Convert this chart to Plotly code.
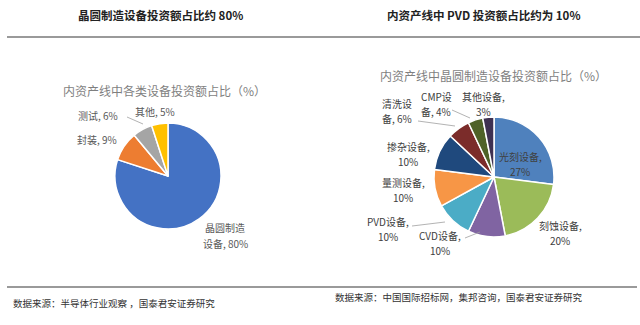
import plotly.graph_objects as go

W, H = 640, 325

# Left pie data
left_labels = ["晶圆制造设备", "封装", "测试", "其他"]
left_values = [80, 9, 6, 5]
left_colors = ["#4472C4", "#ED7D31", "#A5A5A5", "#FFC000"]

# Right pie data
right_labels = ["光刻设备", "刻蚀设备", "CVD设备", "PVD设备", "量测设备",
                "掺杂设备", "清洗设备", "CMP设备", "其他设备"]
right_values = [27, 20, 10, 10, 10, 10, 6, 4, 3]
right_colors = ["#4F81BD", "#9BBB59", "#8064A2", "#4BACC6", "#F79646",
                "#1F497D", "#7B2C2A", "#4F6228", "#3F3151"]

# label texts (display lines)
left_label_text = [["晶圆制造", "设备, 80%"], ["封装, 9%"], ["测试, 6%"], ["其他, 5%"]]
right_label_text = [["光刻设备,", "27%"], ["刻蚀设备,", "20%"], ["CVD设备,", "10%"],
                    ["PVD设备,", "10%"], ["量测设备,", "10%"], ["掺杂设备,", "10%"],
                    ["清洗设", "备, 6%"], ["CMP设", "备, 4%"], ["其他设备,", "3%"]]

FONT = "Noto Sans CJK SC"
GRAY = "#595959"

def px(x):
    return x / W

def py(y):
    return 1 - y / H

fig = go.Figure()

fig.add_trace(go.Pie(
    labels=left_labels, values=left_values, sort=False, direction="clockwise",
    rotation=0, marker=dict(colors=left_colors, line=dict(color="white", width=1.5)),
    textinfo="none", hoverinfo="label+value",
    domain=dict(x=[px(115), px(221)], y=[py(229), py(123)]),
    showlegend=False,
))

fig.add_trace(go.Pie(
    labels=right_labels, values=right_values, sort=False, direction="clockwise",
    rotation=0, marker=dict(colors=right_colors, line=dict(color="white", width=1.5)),
    textinfo="none", hoverinfo="label+value",
    domain=dict(x=[px(434), px(554)], y=[py(237), py(117)]),
    showlegend=False,
))

annotations = []

def ann(text, x, y, size=10.5, color=GRAY, xanchor="center", bold=False):
    annotations.append(dict(
        text=f"<b>{text}</b>" if bold else text, x=px(x), y=py(y), xref="paper", yref="paper",
        showarrow=False, font=dict(family=FONT, size=size, color=color),
        xanchor=xanchor, yanchor="middle", borderpad=0,
    ))

def multi(lines, x, y, step, size=10, color=GRAY):
    y0 = y - step * (len(lines) - 1) / 2
    for i, ln in enumerate(lines):
        ann(ln, x, y0 + i * step, size=size, color=color)

# Panel titles
ann("晶圆制造设备投资额占比约 80%", 160, 15, size=11.5, color="#222222", bold=True)
ann("内资产线中 PVD 投资额占比约为 10%", 483, 15, size=11.5, color="#222222", bold=True)

# Chart subtitles
ann("内资产线中各类设备投资额占比（%）", 164, 90, size=12, color="#7F7F7F")
ann("内资产线中晶圆制造设备投资额占比（%）", 493, 75, size=12, color="#7F7F7F")

# Left labels
left_pos = [(225, 235), (97, 139), (98, 115), (155, 112)]
for lines, (x, y) in zip(left_label_text, left_pos):
    multi(lines, x, y, 16)

# Right labels
right_pos = [(520, 164), (560, 233), (440, 243), (388, 229), (403, 190),
             (408, 154), (397, 111), (436, 104), (483, 104)]
for lines, (x, y) in zip(right_label_text, right_pos):
    multi(lines, x, y, 15, color="#404040")

# Sources
ann("数据来源：半导体行业观察 ，国泰君安证券研究", 12, 303, size=9.5, color="#333333", xanchor="left")
ann("数据来源：中国国际招标网，集邦咨询，国泰君安证券研究", 334, 297, size=9.5, color="#333333", xanchor="left")

shapes = [
    dict(type="line", xref="paper", yref="paper", x0=px(7), x1=px(640), y0=py(37), y1=py(37),
         line=dict(color="#9A9A9A", width=2)),
    dict(type="line", xref="paper", yref="paper", x0=px(7), x1=px(637), y0=py(287), y1=py(287),
         line=dict(color="#9A9A9A", width=2)),
    # leader lines
    dict(type="line", xref="paper", yref="paper", x0=px(127), x1=px(143), y0=py(117), y1=py(124),
         line=dict(color="#A0A0A0", width=0.8)),
    dict(type="line", xref="paper", yref="paper", x0=px(418), x1=px(455), y0=py(121), y1=py(126),
         line=dict(color="#A0A0A0", width=0.8)),
    dict(type="line", xref="paper", yref="paper", x0=px(452), x1=px(470), y0=py(110), y1=py(118),
         line=dict(color="#A0A0A0", width=0.8)),
    dict(type="line", xref="paper", yref="paper", x0=px(412), x1=px(445), y0=py(226), y1=py(222),
         line=dict(color="#A0A0A0", width=0.8)),
    dict(type="line", xref="paper", yref="paper", x0=px(465), x1=px(480), y0=py(238), y1=py(232),
         line=dict(color="#A0A0A0", width=0.8)),
]

fig.update_layout(
    width=W, height=H, margin=dict(l=0, r=0, t=0, b=0),
    paper_bgcolor="white", plot_bgcolor="white",
    annotations=annotations, shapes=shapes,
)

fig.write_html("out.html")
